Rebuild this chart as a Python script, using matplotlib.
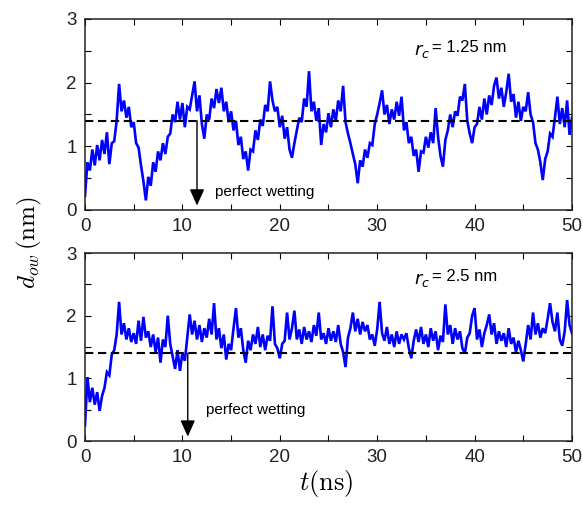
import numpy as np
import matplotlib
matplotlib.use("Agg")
import matplotlib.pyplot as plt
from matplotlib.ticker import MultipleLocator

# Time axis shared by both runs (ns), sampled every 0.25 ns
t_ns = np.arange(0, 50.001, 0.25)

# Droplet-wall distance d_ow (nm) for cutoff r_c = 1.25 nm
d_ow_rc125 = [
    0.22, 0.75, 0.62, 0.95, 0.70, 1.02, 0.78, 1.10,
    0.88, 1.22, 0.72, 1.05, 1.08, 1.40, 1.98, 1.55,
    1.72, 1.45, 1.62, 1.30, 1.38, 1.05, 0.98, 0.70,
    0.45, 0.15, 0.52, 0.38, 0.75, 0.60, 0.92, 0.78,
    1.05, 0.88, 1.15, 1.20, 1.50, 1.38, 1.70, 1.42,
    1.68, 1.30, 1.62, 1.58, 1.80, 2.02, 1.55, 1.80,
    1.35, 1.12, 1.50, 1.42, 1.75, 1.60, 1.90, 1.68,
    1.92, 1.55, 1.70, 1.38, 1.55, 1.25, 1.40, 1.02,
    1.15, 0.80, 0.92, 0.62, 0.95, 0.92, 1.25, 1.10,
    1.42, 1.32, 1.65, 1.55, 2.02, 1.72, 1.55, 1.62,
    1.30, 1.48, 1.12, 1.30, 0.95, 0.82, 1.05, 1.25,
    1.45, 1.38, 1.75, 1.62, 2.18, 1.55, 1.70, 1.40,
    1.60, 1.02, 1.35, 1.22, 1.52, 1.30, 1.58, 1.40,
    1.72, 1.55, 1.95, 1.38, 1.20, 1.05, 0.88, 0.72,
    0.42, 0.78, 0.68, 0.95, 0.82, 1.05, 1.02, 1.35,
    1.50, 1.68, 1.88, 1.50, 1.65, 1.35, 1.58, 1.42,
    1.70, 1.48, 1.78, 1.25, 1.38, 1.05, 1.15, 0.85,
    0.95, 0.60, 0.92, 0.90, 1.15, 0.98, 1.22, 1.05,
    1.60, 1.15, 0.85, 0.68, 1.10, 1.25, 1.50, 1.30,
    1.55, 1.48, 1.78, 1.72, 1.98, 1.40, 1.20, 1.05,
    1.30, 1.35, 1.62, 1.42, 1.75, 1.50, 1.80, 1.65,
    1.95, 2.08, 1.75, 1.92, 1.62, 1.85, 2.14, 1.70,
    1.82, 1.45, 1.70, 1.40, 1.62, 1.55, 1.85, 1.50,
    1.38, 1.05, 0.95, 0.75, 0.47, 0.80, 0.92, 1.20,
    1.15, 1.45, 1.78, 1.35, 1.60, 1.30, 1.72, 1.18,
    1.45,
]

# Droplet-wall distance d_ow (nm) for cutoff r_c = 2.5 nm
d_ow_rc25 = [
    0.25, 1.02, 0.62, 0.85, 0.58, 0.78, 0.48, 0.72,
    0.85, 1.10, 1.05, 1.38, 1.45, 1.70, 2.22, 1.70,
    1.88, 1.62, 1.80, 1.58, 1.72, 1.55, 1.92, 1.60,
    1.98, 1.65, 1.75, 1.50, 1.70, 1.42, 1.65, 1.25,
    1.62, 1.50, 2.00, 1.55, 1.35, 1.15, 1.45, 1.12,
    1.40, 1.28, 1.65, 2.02, 1.70, 1.92, 1.62, 1.85,
    1.58, 1.80, 1.65, 1.95, 1.70, 2.20, 1.62, 1.80,
    1.48, 1.70, 1.30, 1.55, 1.45, 1.80, 2.12, 1.65,
    1.80, 1.45, 1.25, 1.60, 1.45, 1.70, 1.55, 1.82,
    1.50, 1.70, 1.45, 1.68, 1.60, 2.15, 1.55, 1.48,
    1.32, 1.55, 1.60, 2.05, 1.62, 1.80, 2.08, 1.62,
    1.78, 1.55, 1.82, 1.62, 1.75, 1.58, 1.85, 1.68,
    2.05, 1.62, 1.72, 1.55, 1.80, 1.60, 1.75, 1.58,
    1.85, 1.55, 1.42, 1.18, 1.65, 1.80, 2.05, 1.75,
    1.95, 1.70, 1.90, 1.75, 1.85, 1.62, 1.70, 1.52,
    1.78, 2.22, 1.72, 1.60, 1.82, 1.55, 1.70, 1.50,
    1.75, 1.55, 1.70, 1.62, 1.72, 1.48, 1.32, 1.60,
    1.78, 1.58, 1.82, 1.55, 1.70, 1.50, 1.80, 1.60,
    1.75, 1.45, 1.68, 1.58, 2.18, 1.70, 1.85, 1.55,
    1.80, 1.62, 1.75, 1.48, 1.40, 1.65, 1.72, 2.00,
    2.12, 1.62, 1.78, 1.50, 1.72, 1.85, 2.02, 1.70,
    1.88, 1.55, 1.75, 1.60, 1.72, 1.50, 1.80, 1.55,
    1.65, 1.42, 1.60, 1.45, 1.27, 1.55, 1.85, 1.62,
    2.05, 1.70, 1.88, 1.65, 1.80, 1.72, 1.95, 2.20,
    1.90, 1.75, 2.05, 1.62, 1.52, 1.75, 2.25, 1.85,
    1.72,
]

perfect_wetting_level = 1.4          # nm, dashed reference
panel_labels = ["1.25", "2.5"]
arrow_t = [11.5, 10.55]
x_ticks = [0, 10, 20, 30, 40, 50]
y_ticks = [0, 1, 2, 3]

plt.rcParams["font.family"] = ["Liberation Sans", "DejaVu Sans"]

fig = plt.figure(figsize=(5.83, 5.05), dpi=100)
ax_top = fig.add_axes([0.1458, 0.5842, 0.8353, 0.3782])
ax_bot = fig.add_axes([0.1458, 0.1267, 0.8353, 0.3723])

series = [d_ow_rc125, d_ow_rc25]
text_pos = [(13.3, 0.28), (12.4, 0.50)]
rc_pos = [(33.8, 2.55), (33.8, 2.62)]

for ax, d, lab, at, tp, rp in zip([ax_top, ax_bot], series, panel_labels,
                                  arrow_t, text_pos, rc_pos):
    ax.plot(t_ns, d, color=(0, 0, 1), lw=1.9, solid_joinstyle="miter")
    ax.axhline(perfect_wetting_level, color="k", lw=1.5,
               linestyle=(0, (4, 2.2)))
    ax.annotate("", xy=(at, 0.07), xytext=(at, perfect_wetting_level),
                arrowprops=dict(arrowstyle="-|>,head_length=1.0,head_width=0.45",
                                color="k", lw=1.0, shrinkA=0, shrinkB=0))
    ax.text(tp[0], tp[1], "perfect wetting", fontsize=11, va="center",
            ha="left")
    ax.text(rp[0], rp[1] - 0.05, r"$r_{c}$", fontsize=13, va="center",
            ha="left", math_fontfamily="dejavusans")
    ax.text(rp[0] + 1.8, rp[1], "= " + lab + " nm", fontsize=12,
            va="center", ha="left")

    ax.set_xlim(0, 50)
    ax.set_ylim(0, 3)
    ax.set_xticks(x_ticks)
    ax.set_yticks(y_ticks)
    ax.xaxis.set_minor_locator(MultipleLocator(5))
    ax.yaxis.set_minor_locator(MultipleLocator(0.5))
    ax.tick_params(which="both", direction="in", top=True, right=True,
                   labelsize=13.5, colors="k", labelcolor="#222222")
    ax.tick_params(which="major", length=4, width=0.8, pad=6)
    ax.tick_params(which="minor", length=4, width=0.8)
    for s in ax.spines.values():
        s.set_linewidth(1.1)
        s.set_color("#222222")

fig.text(0.05, 0.52, r"$d_{ow}\,(\mathrm{nm})$", rotation=90, fontsize=18,
         ha="center", va="center", math_fontfamily="cm")
fig.text(0.56, 0.042, r"$t(\mathrm{ns})$", fontsize=19, ha="center",
         va="center", math_fontfamily="cm")

fig.savefig("out.png", dpi=100)
